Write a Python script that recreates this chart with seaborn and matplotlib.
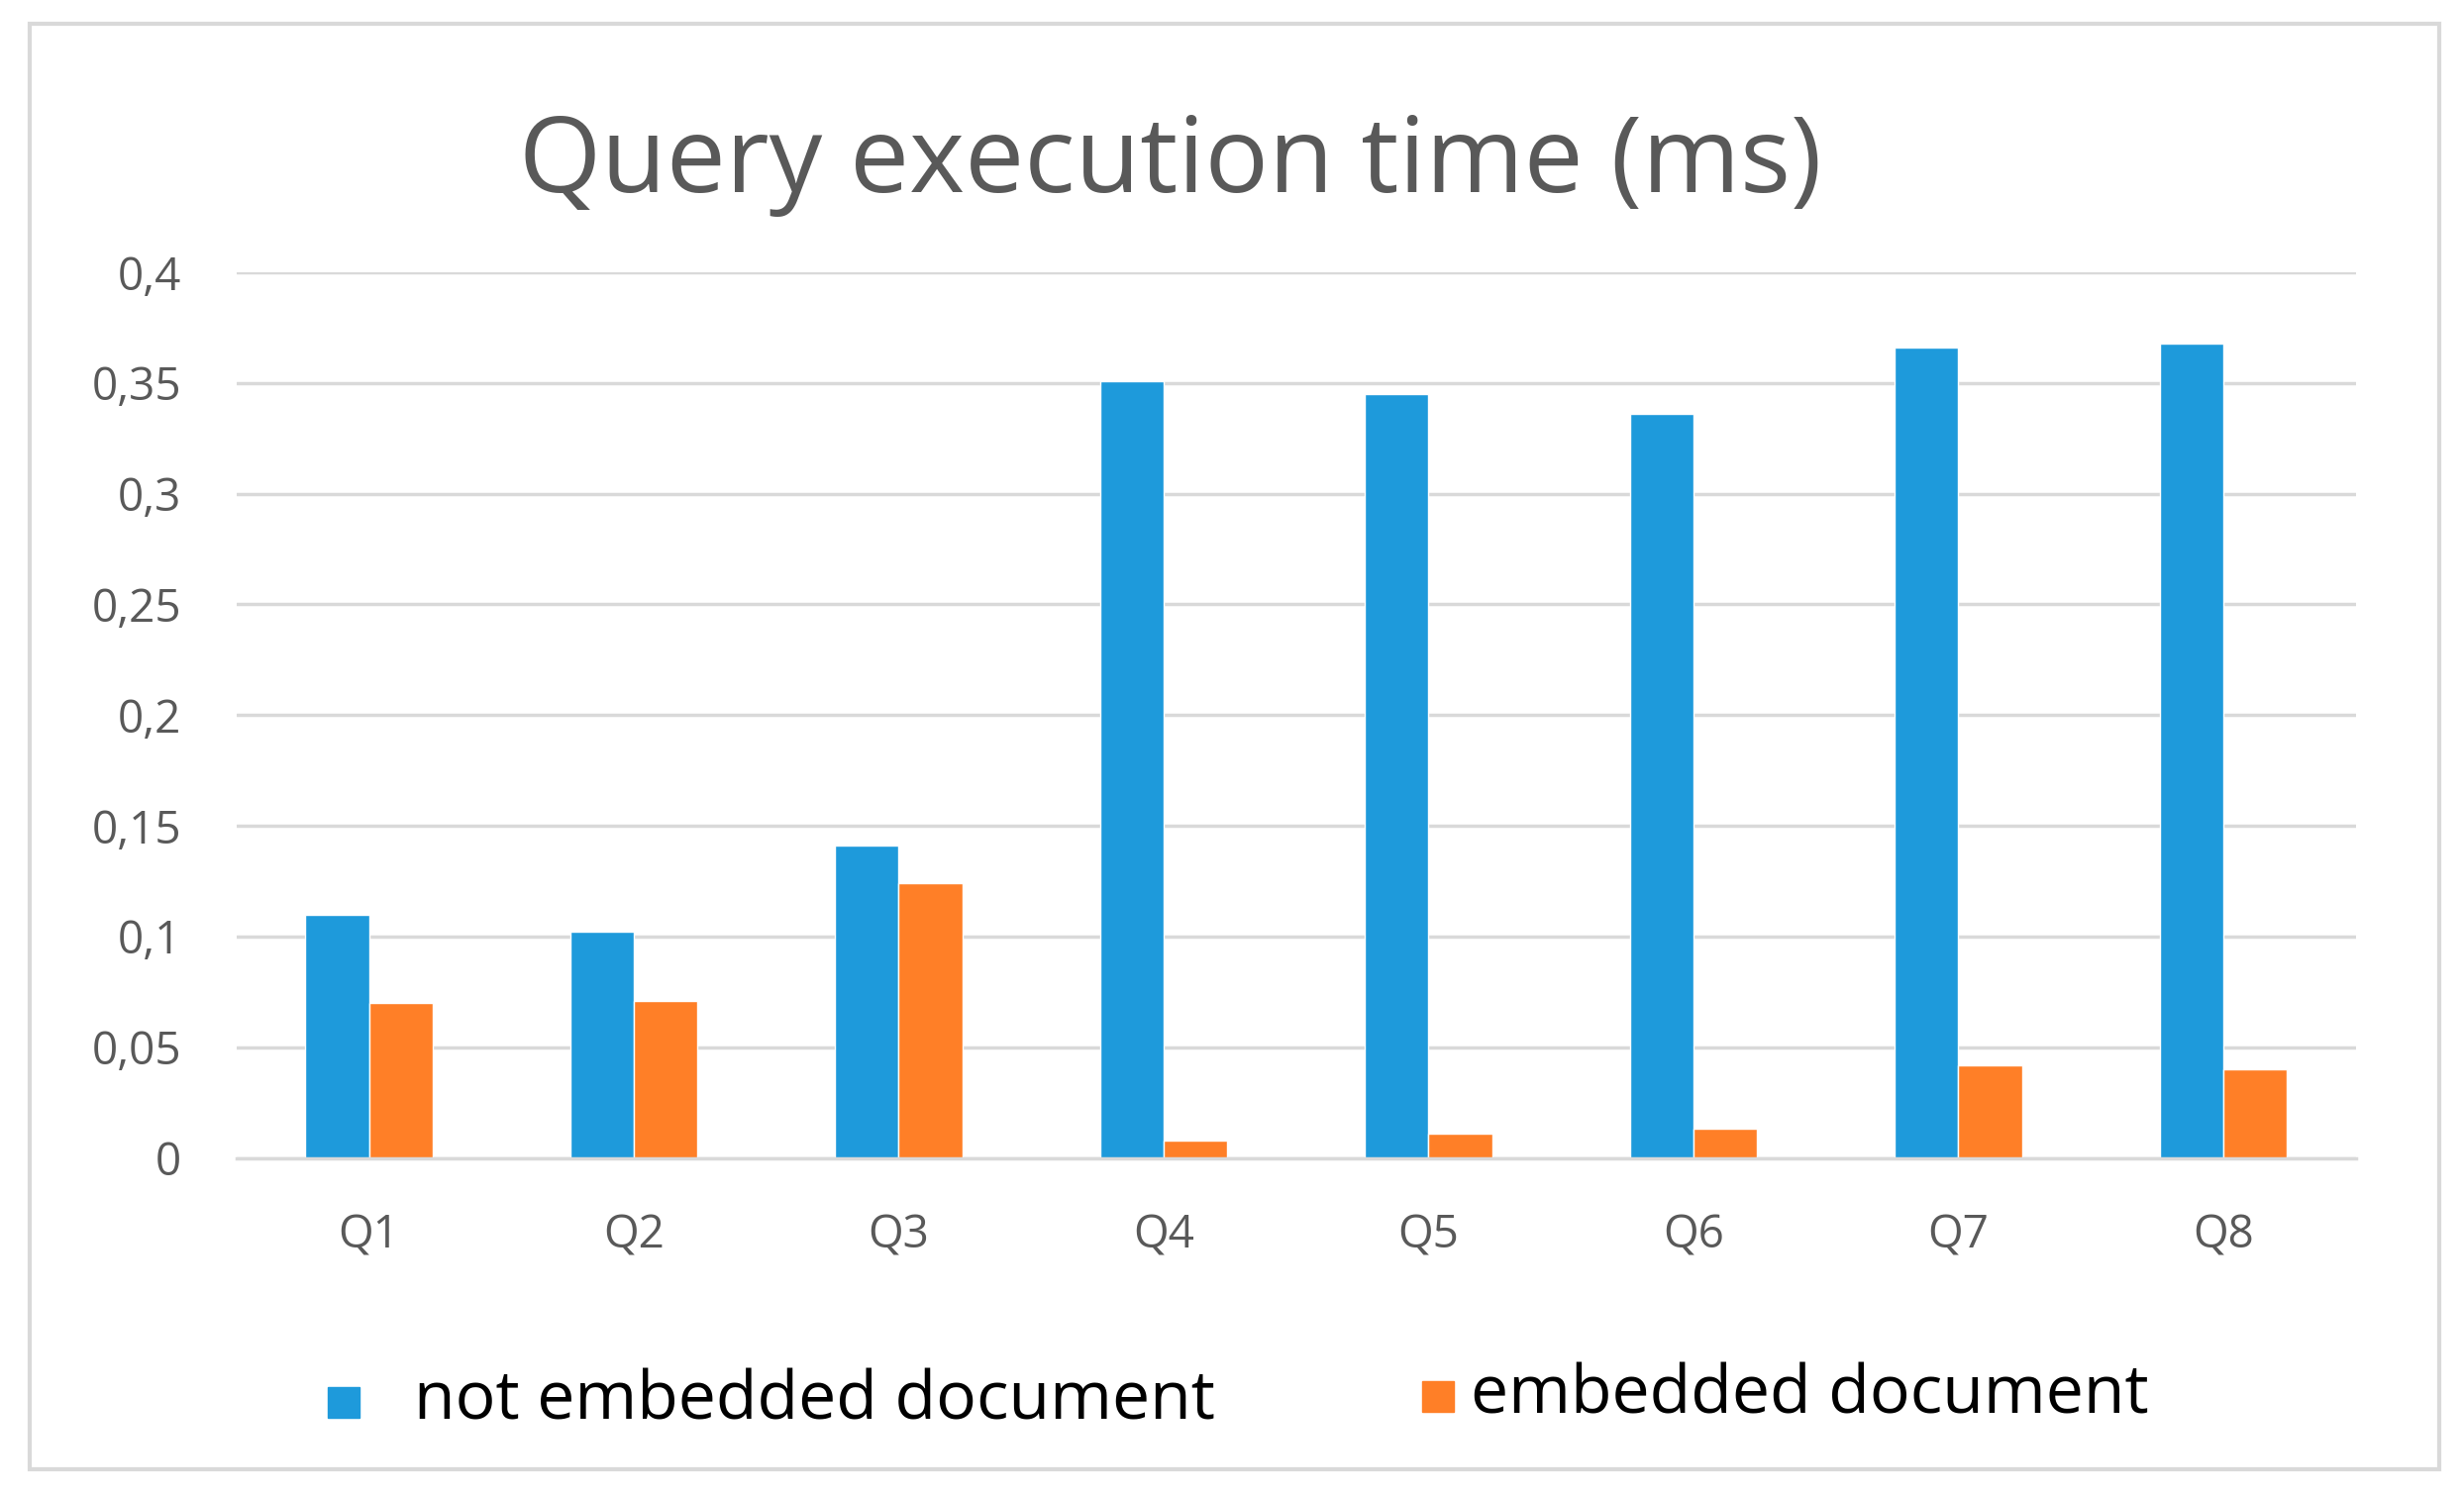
import matplotlib
matplotlib.use("Agg")
import matplotlib.pyplot as plt
import seaborn as sns
import pandas as pd
from matplotlib.patches import Rectangle

queries = ["Q1", "Q2", "Q3", "Q4", "Q5", "Q6", "Q7", "Q8"]
not_embedded = [0.110, 0.102, 0.141, 0.351, 0.345, 0.336, 0.366, 0.368]
embedded = [0.070, 0.071, 0.124, 0.008, 0.011, 0.013, 0.042, 0.040]
series = ["not embedded document", "embedded document"]
yticks = [0, 0.05, 0.1, 0.15, 0.2, 0.25, 0.3, 0.35, 0.4]

df = pd.DataFrame({
    "query": queries * 2,
    "time": not_embedded + embedded,
    "series": [series[0]] * 8 + [series[1]] * 8,
})

sns.set_theme(style="white")
plt.rcParams["font.family"] = ["Open Sans", "DejaVu Sans"]
grey = "#595959"

fig = plt.figure(figsize=(24.88, 15.11), dpi=100)
ax = fig.add_axes([0.096, 0.226, 0.86, 0.592])
sns.barplot(data=df, x="query", y="time", hue="series", palette=["#1E9ADB", "#FF7F27"],
            width=0.48, saturation=1, ax=ax, legend=False)

ax.set_ylim(0, 0.4)
ax.set_yticks(yticks)
ax.set_yticklabels([("%g" % t).replace(".", ",") for t in yticks])
ax.yaxis.grid(True, color="#D9D9D9", linewidth=2.5)
ax.set_axisbelow(True)
for s in ["top", "right", "left"]:
    ax.spines[s].set_visible(False)
ax.spines["bottom"].set_color("#D9D9D9")
ax.spines["bottom"].set_linewidth(2.5)
ax.tick_params(axis="both", length=0, labelsize=33, colors=grey)
ax.tick_params(axis="x", pad=40)
ax.tick_params(axis="y", pad=40)
ax.set_xlabel("")
ax.set_ylabel("")

fig.text(0.475, 0.89, "Query execution time (ms)", ha="center", va="center",
         fontsize=77, color=grey)

# legend
fig.patches.append(Rectangle((0.133, 0.052), 0.013, 0.021, color="#1E9ADB",
                             transform=fig.transFigure))
fig.text(0.168, 0.063, series[0], fontsize=49, color="black", va="center")
fig.patches.append(Rectangle((0.577, 0.056), 0.013, 0.021, color="#FF7F27",
                             transform=fig.transFigure))
fig.text(0.597, 0.067, series[1], fontsize=49, color="black", va="center")

# outer border
fig.patches.append(Rectangle((0.012, 0.018), 0.978, 0.966, fill=False,
                             edgecolor="#D9D9D9", linewidth=3,
                             transform=fig.transFigure))

fig.savefig("out.png", dpi=100)
